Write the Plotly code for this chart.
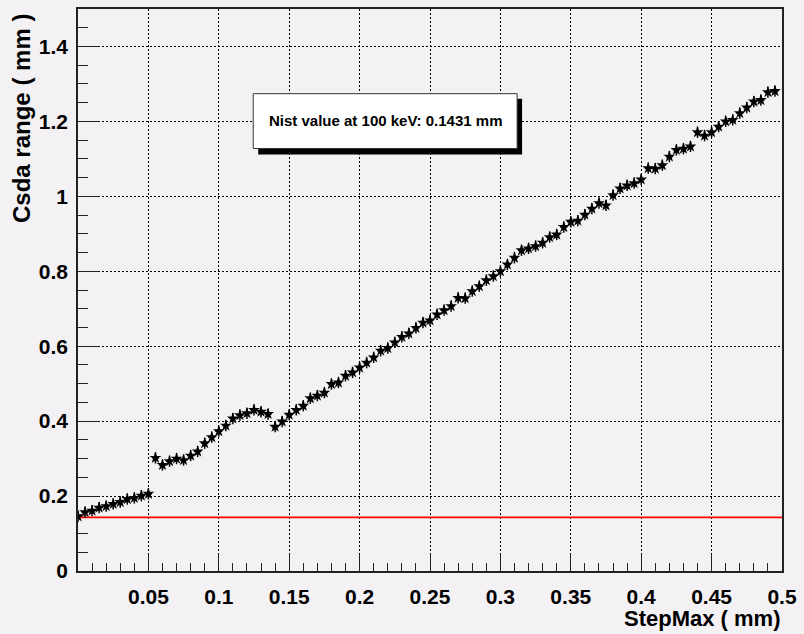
import plotly.graph_objects as go

# StepMax settings (mm)
step_max = [
    0.000, 0.005, 0.010, 0.015, 0.020, 0.025, 0.030, 0.035, 0.040, 0.045,
    0.050, 0.055, 0.060, 0.065, 0.070, 0.075, 0.080, 0.085, 0.090, 0.095,
    0.100, 0.105, 0.110, 0.115, 0.120, 0.125, 0.130, 0.135, 0.140, 0.145,
    0.150, 0.155, 0.160, 0.165, 0.170, 0.175, 0.180, 0.185, 0.190, 0.195,
    0.200, 0.205, 0.210, 0.215, 0.220, 0.225, 0.230, 0.235, 0.240, 0.245,
    0.250, 0.255, 0.260, 0.265, 0.270, 0.275, 0.280, 0.285, 0.290, 0.295,
    0.300, 0.305, 0.310, 0.315, 0.320, 0.325, 0.330, 0.335, 0.340, 0.345,
    0.350, 0.355, 0.360, 0.365, 0.370, 0.375, 0.380, 0.385, 0.390, 0.395,
    0.400, 0.405, 0.410, 0.415, 0.420, 0.425, 0.430, 0.435, 0.440, 0.445,
    0.450, 0.455, 0.460, 0.465, 0.470, 0.475, 0.480, 0.485, 0.490, 0.495,
]

# simulated CSDA range (mm)
csda_range = [
    0.146, 0.157, 0.161, 0.169, 0.173, 0.179, 0.184, 0.192, 0.195, 0.201,
    0.206, 0.302, 0.283, 0.293, 0.300, 0.296, 0.308, 0.319, 0.341, 0.357,
    0.373, 0.388, 0.407, 0.416, 0.421, 0.430, 0.425, 0.419, 0.385, 0.399,
    0.417, 0.430, 0.441, 0.461, 0.468, 0.476, 0.499, 0.503, 0.521, 0.530,
    0.543, 0.556, 0.570, 0.588, 0.595, 0.610, 0.625, 0.634, 0.649, 0.663,
    0.669, 0.685, 0.696, 0.707, 0.729, 0.728, 0.747, 0.760, 0.776, 0.787,
    0.800, 0.818, 0.836, 0.856, 0.861, 0.867, 0.876, 0.891, 0.898, 0.918,
    0.932, 0.935, 0.951, 0.967, 0.982, 0.976, 1.003, 1.021, 1.029, 1.035,
    1.045, 1.075, 1.074, 1.083, 1.106, 1.124, 1.127, 1.133, 1.171, 1.162,
    1.171, 1.186, 1.200, 1.204, 1.222, 1.237, 1.253, 1.257, 1.278, 1.281,
]

bin_half_width = 0.0025
range_error = 0.015
nist_value = 0.1431

x_ticks = [0.05, 0.1, 0.15, 0.2, 0.25, 0.3, 0.35, 0.4, 0.45, 0.5]
x_labels = ["0.05", "0.1", "0.15", "0.2", "0.25", "0.3", "0.35", "0.4", "0.45", "0.5"]
y_ticks = [0, 0.2, 0.4, 0.6, 0.8, 1.0, 1.2, 1.4]
y_labels = ["0", "0.2", "0.4", "0.6", "0.8", "1", "1.2", "1.4"]

BG = "#f4f1f4"
FONT = "Liberation Sans"

fig = go.Figure()

# NIST reference line
fig.add_trace(go.Scatter(
    x=[0, 0.5], y=[nist_value, nist_value], mode="lines",
    line=dict(color="#ff0000", width=1.7), hoverinfo="skip", showlegend=False,
))

# simulated points with bin-width and statistical error bars
fig.add_trace(go.Scatter(
    x=step_max, y=csda_range, mode="markers",
    marker=dict(symbol="star", size=9, color="black", line=dict(width=0)),
    error_x=dict(type="constant", value=bin_half_width, width=0, thickness=1.5, color="black"),
    error_y=dict(type="constant", value=range_error, width=0, thickness=1.5, color="black"),
    showlegend=False,
))

axis_common = dict(
    showline=True, mirror=True, linecolor="#222222", linewidth=1.6,
    ticks="inside", tickcolor="#222222", tickwidth=1.2,
    showgrid=True, gridcolor="black", gridwidth=1, griddash="1.5px,2.5px",
    zeroline=False,
    tickfont=dict(family=FONT, size=21, color="black", weight="bold"),
)

fig.update_xaxes(
    range=[0, 0.5], tickmode="array", tickvals=x_ticks, ticktext=x_labels,
    ticklen=17, ticklabelstandoff=6,
    minor=dict(dtick=0.01, ticklen=8, tickcolor="#222222", tickwidth=1.2, ticks="inside", showgrid=False),
    **axis_common,
)
fig.update_yaxes(
    range=[0, 1.5], tickmode="array", tickvals=y_ticks, ticktext=y_labels,
    ticklen=21, ticklabelstandoff=4,
    minor=dict(dtick=0.05, ticklen=10, tickcolor="#222222", tickwidth=1.2, ticks="inside", showgrid=False),
    **axis_common,
)

# label box with drop shadow
fig.add_shape(type="rect", xref="paper", yref="paper",
              x0=0.256, x1=0.6308, y0=0.7411, y1=0.8404,
              fillcolor="black", line=dict(width=0), layer="above")
fig.add_shape(type="rect", xref="paper", yref="paper",
              x0=0.2489, x1=0.6238, y0=0.7518, y1=0.8493,
              fillcolor="white", line=dict(color="#333333", width=1), layer="above")

fig.add_annotation(
    text="Nist value at 100 keV: 0.1431 mm", xref="paper", yref="paper",
    x=0.4364, y=0.802, xanchor="center", yanchor="middle", showarrow=False,
    font=dict(family=FONT, size=15, color="black", weight="bold"),
)

# axis titles, aligned to the axis ends
fig.add_annotation(
    text="StepMax ( mm)", xref="paper", yref="paper",
    x=1.0, y=-0.085, xanchor="right", yanchor="middle", showarrow=False,
    font=dict(family=FONT, size=22, color="black", weight="bold"),
)
fig.add_annotation(
    text="Csda range ( mm )", xref="paper", yref="paper", textangle=-90,
    x=-0.08, y=0.995, xanchor="center", yanchor="top", showarrow=False,
    font=dict(family=FONT, size=24, color="black", weight="bold"),
)

fig.update_layout(
    width=804, height=634,
    margin=dict(l=78, r=19, t=7, b=63),
    paper_bgcolor=BG, plot_bgcolor=BG,
    showlegend=False,
)

fig.write_html("out.html")
